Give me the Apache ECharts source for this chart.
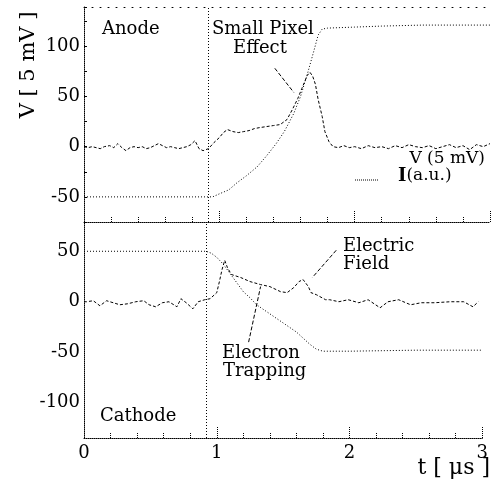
<!DOCTYPE html>
<html>
<head>
<meta charset="utf-8">
<script src="https://cdn.jsdelivr.net/npm/echarts@6/dist/echarts.min.js"></script>
<style>
html,body{margin:0;padding:0;background:#fff}
#chart{width:491px;height:483px}
</style>
</head>
<body>
<div id="chart"></div>
<script>
// anode (top panel)
const anodeT = [0, 0.03, 0.06, 0.09, 0.12, 0.15, 0.19, 0.22, 0.25, 0.28, 0.31, 0.34, 0.37, 0.40, 0.43, 0.46, 0.49, 0.52, 0.55, 0.58, 0.61, 0.64, 0.67, 0.70, 0.73, 0.76, 0.79, 0.82, 0.85, 0.88, 0.92, 0.96, 1.00, 1.03, 1.06, 1.10, 1.14, 1.18, 1.22, 1.26, 1.30, 1.35, 1.40, 1.45, 1.50, 1.54, 1.58, 1.61, 1.65, 1.67, 1.69, 1.71, 1.73, 1.76, 1.78, 1.81, 1.84, 1.88, 1.92, 1.96, 2.00, 2.05, 2.10, 2.15, 2.20, 2.25, 2.30, 2.35, 2.40, 2.45, 2.50, 2.55, 2.60, 2.65, 2.70, 2.75, 2.80, 2.85, 2.90, 2.95, 3.00]
const anodeV = [0, -1, 0, -1, -2, 0, 1, -1, 3, -1, -4, -1, 0, -1, 0, -2, -1, 1, 3, 1, -1, 0, -1, -2, -1, 0, 2, 6, -2, -4, -2, 4, 9, 14, 17, 15, 14, 15, 16, 18, 19, 20, 21, 22, 27, 37, 48, 58, 71, 74, 70, 62, 47, 30, 15, 5, 0, -1, 1, -1, 0, -2, 1, -1, 0, -2, 1, -1, 2, 0, -1, 1, -2, 0, 2, -1, 1, -3, 2, 0, 3]
const anodeIT = [0, 0.2, 0.5, 0.8, 0.95, 1.0, 1.07, 1.13, 1.2, 1.28, 1.35, 1.42, 1.48, 1.55, 1.6, 1.65, 1.7, 1.73, 1.76, 1.8, 2.0, 2.2, 2.5, 3.0]
const anodeI = [-50, -50, -50, -50, -50, -47, -43, -36, -29, -20, -9, 3, 15, 33, 50, 72, 96, 111, 117, 118, 119, 120, 121, 121]

// cathode (bottom panel)
const cathT = [0, 0.02, 0.07, 0.12, 0.17, 0.22, 0.27, 0.33, 0.39, 0.45, 0.49, 0.54, 0.59, 0.64, 0.70, 0.73, 0.77, 0.82, 0.86, 0.91, 0.95, 1.00, 1.02, 1.04, 1.06, 1.08, 1.11, 1.18, 1.25, 1.33, 1.40, 1.48, 1.53, 1.58, 1.62, 1.65, 1.69, 1.71, 1.75, 1.82, 1.85, 1.92, 1.99, 2.07, 2.14, 2.23, 2.29, 2.37, 2.46, 2.54, 2.64, 2.76, 2.86, 2.93, 2.97]
const cathV = [0, 0, 1, -4, 1, -1, -3, -2, 0, 1, -3, -5, -1, 0, -5, 3, -1, -7, 0, 2, 3, 9, 20, 32, 41, 34, 27, 24, 20, 17, 15, 10, 9, 14, 20, 22, 15, 9, 7, 2, 2, 0, 2, -1, 2, -6, 0, 2, -3, -1, -1, 0, 0, -5, 0]
const cathIT = [0, 0.3, 0.6, 0.92, 0.96, 1.0, 1.05, 1.1, 1.15, 1.2, 1.25, 1.3, 1.4, 1.5, 1.6, 1.7, 1.75, 1.8, 2.0, 2.5, 3.0]
const cathI = [50, 50, 50, 50, 48, 44, 37, 28, 19, 10, 4, -3, -12, -21, -30, -42, -47, -49, -49, -48, -48]

const xTicks = [0, 1, 2, 3]
const trigT = 0.92

const pairs = (t, v) => t.map((x, i) => [x, v[i]])
const serif = 'DejaVu Serif'
const ink = '#000'

const chart = echarts.init(document.getElementById('chart'))

const xBase = {
  type: 'value', min: 0, max: 3, interval: 1,
  axisLine: { onZero: false, lineStyle: { color: ink, type: [1, 1], width: 1 } },
  axisTick: { inside: true, length: 11, lineStyle: { color: ink, type: [1, 1] } },
  minorTick: { show: true, splitNumber: 5, length: 5, lineStyle: { color: ink, type: [1, 1] } },
  splitLine: { show: false }
}
const yLabel = v => (v % 50 === 0 ? String(v) : '')

const vLine = { color: ink, width: 1, type: [3, 2] }
const iLine = { color: ink, width: 1, type: [1, 2] }
const trigLine = {
  silent: true, symbol: 'none', label: { show: false },
  lineStyle: { color: ink, width: 1, type: [1, 2] }
}

const option = {
  animation: false,
  backgroundColor: '#fff',
  grid: [
    { left: 84, right: 1, top: 7, height: 215 },
    { left: 84, right: 1, top: 222, height: 216 }
  ],
  xAxis: [
    Object.assign({}, xBase, { gridIndex: 0, axisLabel: { show: false } }),
    { gridIndex: 0, type: 'value', min: 0, max: 3, position: 'top',
      axisLine: { onZero: false, lineStyle: { color: ink, type: [1, 7] } },
      axisTick: { show: false }, axisLabel: { show: false }, splitLine: { show: false } },
    Object.assign({}, xBase, { gridIndex: 1, axisLabel: {
      color: ink, fontFamily: serif, fontSize: 18, margin: 6,
      formatter: v => (xTicks.includes(v) ? String(v) : '')
    } })
  ],
  yAxis: [
    { gridIndex: 0, type: 'value', min: -75, max: 139, interval: 25,
      axisLine: { show: true, onZero: false, lineStyle: { color: ink, type: [1, 1] } },
      axisTick: { inside: true, length: 3, lineStyle: { color: ink } },
      axisLabel: { color: ink, fontFamily: serif, fontSize: 18, margin: 4, formatter: yLabel },
      splitLine: { show: false } },
    { gridIndex: 1, type: 'value', min: -135, max: 79, interval: 5,
      axisLine: { show: true, onZero: false, lineStyle: { color: ink, type: [1, 1] } },
      axisTick: { show: false },
      axisLabel: { color: ink, fontFamily: serif, fontSize: 18, margin: 4, formatter: yLabel },
      splitLine: { show: false } }
  ],
  series: [
    { type: 'line', xAxisIndex: 0, yAxisIndex: 0, data: pairs(anodeT, anodeV),
      showSymbol: false, lineStyle: vLine,
      markLine: Object.assign({}, trigLine, { data: [{ xAxis: trigT }] }) },
    { type: 'line', xAxisIndex: 0, yAxisIndex: 0, data: pairs(anodeIT, anodeI),
      showSymbol: false, lineStyle: iLine,
      markLine: { silent: true, symbol: 'none', label: { show: false },
        lineStyle: { color: ink, width: 1, type: [4, 2] },
        data: [[{ coord: [1.41, 78] }, { coord: [1.55, 54] }]] } },
    { type: 'line', xAxisIndex: 2, yAxisIndex: 1, data: pairs(cathT, cathV),
      showSymbol: false, lineStyle: vLine,
      markLine: Object.assign({}, trigLine, { data: [{ xAxis: trigT }] }) },
    { type: 'line', xAxisIndex: 2, yAxisIndex: 1, data: pairs(cathIT, cathI),
      showSymbol: false, lineStyle: iLine,
      markLine: { silent: true, symbol: 'none', label: { show: false },
        lineStyle: { color: ink, width: 1, type: [4, 2] },
        data: [
          [{ coord: [1.24, -40] }, { coord: [1.33, 15] }],
          [{ coord: [1.90, 51] }, { coord: [1.72, 24] }]
        ] } }
  ],
  graphic: [
    { type: 'text', left: 102, top: 20, style: { text: 'Anode', font: '18px ' + serif, fill: ink } },
    { type: 'text', left: 212, top: 20, style: { text: 'Small Pixel', font: '18px ' + serif, fill: ink } },
    { type: 'text', left: 233, top: 39, style: { text: 'Effect', font: '18px ' + serif, fill: ink } },
    { type: 'text', right: 6, top: 150, style: { text: 'V (5 mV)', font: '17px ' + serif, fill: ink } },
    { type: 'text', left: 398, top: 167, style: {
      text: '{b|I}(a.u.)', font: '17px ' + serif, fill: ink,
      rich: { b: { fontWeight: 'bold', fontSize: 18, fontFamily: serif } } } },
    { type: 'line', shape: { x1: 355, y1: 180, x2: 378, y2: 180 },
      style: { stroke: ink, lineWidth: 1, lineDash: [1, 1] } },
    { type: 'text', left: 343, top: 237, style: { text: 'Electric', font: '18px ' + serif, fill: ink } },
    { type: 'text', left: 343, top: 255, style: { text: 'Field', font: '18px ' + serif, fill: ink } },
    { type: 'text', left: 222, top: 344, style: { text: 'Electron', font: '18px ' + serif, fill: ink } },
    { type: 'text', left: 223, top: 362, style: { text: 'Trapping', font: '18px ' + serif, fill: ink } },
    { type: 'text', left: 100, top: 407, style: { text: 'Cathode', font: '18px ' + serif, fill: ink } },
    { type: 'text', right: 1, top: 457, style: { text: 't [ μs ]', font: '22px ' + serif, fill: ink } },
    { type: 'text', x: 29, y: 65, rotation: Math.PI / 2, style: {
      text: 'V [ 5 mV ]', font: '21px ' + serif, fill: ink, textAlign: 'center', textVerticalAlign: 'middle' } }
  ]
}

chart.setOption(option)
</script>
</body>
</html>
